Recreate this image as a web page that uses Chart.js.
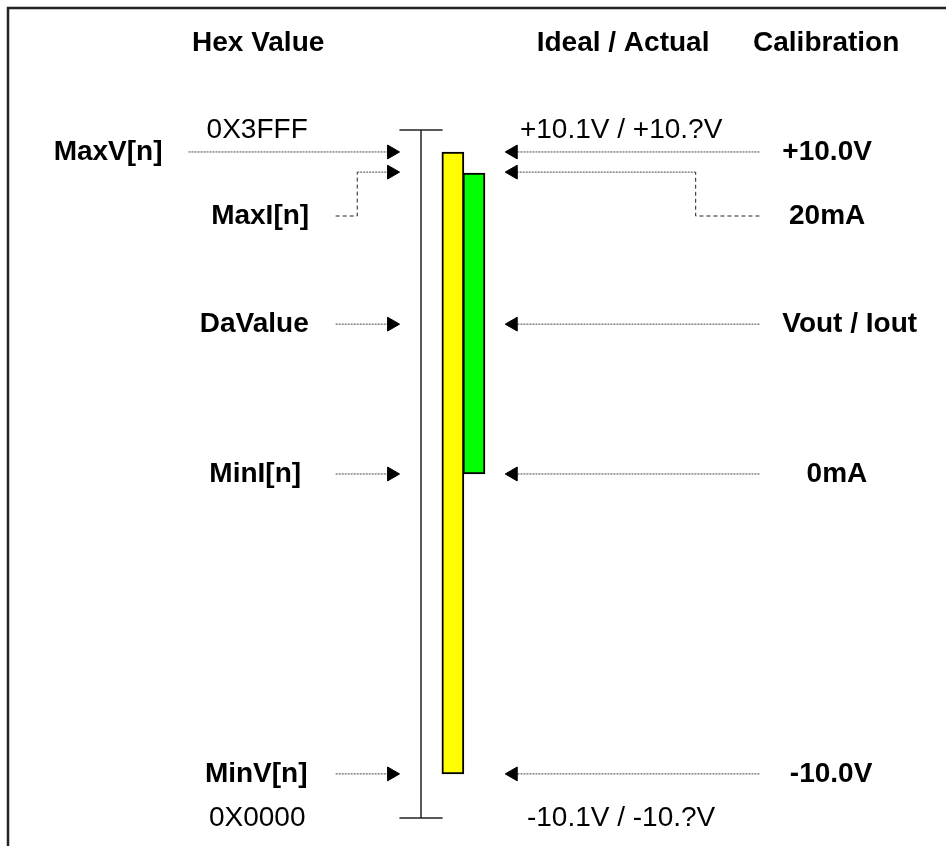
<!DOCTYPE html>
<html><head><meta charset="utf-8">
<script src="https://cdn.jsdelivr.net/npm/chart.js@4.4.1/dist/chart.umd.min.js"></script>
<style>html,body{margin:0;padding:0;background:#fff;}canvas{display:block;}</style>
</head><body>
<canvas id="c" width="946" height="846"></canvas>
<script>
// ---------------- data ----------------
const columnHeaders = ['Hex Value', 'Ideal / Actual', 'Calibration'];
const hexTickLabels = ['0X0000', '0X3FFF'];
const hexTickCodes = [0x0000, 0x3FFF];
const idealActualLabels = ['-10.1V / -10.?V', '+10.1V / +10.?V'];
const levelNames = ['MaxV[n]', 'MaxI[n]', 'DaValue', 'MinI[n]', 'MinV[n]'];
const calibrationLabels = ['+10.0V', '20mA', 'Vout / Iout', '0mA', '-10.0V'];
const levelCodes = [15860, 15380, 11760, 8192, 1050];   // DAC code of each level (schematic)
const voltageRange = [1050, 15860];                      // yellow bar: MinV[n] .. MaxV[n]
const currentRange = [8192, 15360];                      // green bar: MinI[n] .. MaxI[n]

// ---------------- layout (positions / styles only) ----------------
const L = {
  axisX: 420, tickHalf: 22,
  yellowX: 452.5, greenX: 474, barW: 22,
  leftFrom: 333, leftTip: 398, maxVFrom: 183, leftJog: 355,
  rightFrom: 765, rightTip: 506, rightJog: 700,
  arrowR: 8,
  jogRowCode: 14335,
  leftLabelX: [101, 256, 250, 251, 252],
  rightLabelX: [834, 834, 857, 844, 838],
  headerX: [254, 626, 833], headerY: 43,
  hexLabelX: 253, idealLabelX: 624
};
const dotted = [2, 1], dashed = [4, 3];
const lineCol = '#444';

function arrowDataset(pts, rot, dash) {
  const last = pts.length - 1;
  return {
    type: 'line', data: pts, borderColor: lineCol, borderWidth: 1, borderDash: dash,
    pointStyle: 'triangle', rotation: rot,
    pointRadius: pts.map((p, i) => i === last ? L.arrowR : 0),
    pointHoverRadius: 0,
    pointBackgroundColor: '#000', pointBorderColor: '#000', pointBorderWidth: 1,
    tension: 0, fill: false, clip: false, order: 2
  };
}
function plainLine(pts, dash, color, width) {
  return { type: 'line', data: pts, borderColor: color, borderWidth: width, borderDash: dash || [],
    pointRadius: 0, pointHoverRadius: 0, tension: 0, fill: false, clip: false, order: 3 };
}

const datasets = [];
// vertical code axis with end ticks
datasets.push(plainLine([{x: L.axisX, y: hexTickCodes[0]}, {x: L.axisX, y: hexTickCodes[1]}], null, '#222', 1.5));
hexTickCodes.forEach(c => datasets.push(plainLine([{x: L.axisX - L.tickHalf, y: c}, {x: L.axisX + L.tickHalf, y: c}], null, '#222', 1.5)));

// bars
datasets.push({ type: 'bar', data: [{x: L.yellowX, y: voltageRange}], backgroundColor: '#FFFF00', borderColor: '#000',
  borderWidth: 2, borderSkipped: false, barThickness: L.barW, grouped: false, order: 1 });
datasets.push({ type: 'bar', data: [{x: L.greenX, y: currentRange}], backgroundColor: '#00FF00', borderColor: '#000',
  borderWidth: 2, borderSkipped: false, barThickness: L.barW, grouped: false, order: 1 });

// arrows
levelCodes.forEach((code, i) => {
  const lTip = L.leftTip - L.arrowR, rTip = L.rightTip + L.arrowR;
  if (i === 1) {
    datasets.push(plainLine([{x: L.leftFrom, y: L.jogRowCode}, {x: L.leftJog, y: L.jogRowCode}, {x: L.leftJog, y: code}], dashed, '#222', 1));
    datasets.push(arrowDataset([{x: L.leftJog, y: code}, {x: lTip, y: code}], 90, dotted));
    datasets.push(plainLine([{x: L.rightFrom, y: L.jogRowCode}, {x: L.rightJog, y: L.jogRowCode}, {x: L.rightJog, y: code}], dashed, '#222', 1));
    datasets.push(arrowDataset([{x: L.rightJog, y: code}, {x: rTip, y: code}], -90, dotted));
  } else {
    const from = i === 0 ? L.maxVFrom : L.leftFrom;
    datasets.push(arrowDataset([{x: from, y: code}, {x: lTip, y: code}], 90, dotted));
    datasets.push(arrowDataset([{x: L.rightFrom, y: code}, {x: rTip, y: code}], -90, dotted));
  }
});

const textPlugin = {
  id: 'diagramText',
  beforeDraw(chart) {
    const ctx = chart.ctx;
    ctx.save();
    ctx.strokeStyle = '#222'; ctx.lineWidth = 2.5;
    ctx.beginPath(); ctx.moveTo(8, 846); ctx.lineTo(8, 8); ctx.lineTo(946, 8); ctx.stroke();
    ctx.restore();
  },
  afterDraw(chart) {
    const ctx = chart.ctx, ys = chart.scales.y, xs = chart.scales.x;
    const bold = "bold 28px 'Liberation Sans', Arial, sans-serif";
    const normal = "28px 'Liberation Sans', Arial, sans-serif";
    ctx.save();
    ctx.fillStyle = '#000'; ctx.textAlign = 'center'; ctx.textBaseline = 'middle';
    ctx.font = bold;
    columnHeaders.forEach((t, i) => ctx.fillText(t, xs.getPixelForValue(L.headerX[i]), L.headerY));
    levelNames.forEach((t, i) => {
      const c = i === 1 ? L.jogRowCode : levelCodes[i];
      ctx.fillText(t, xs.getPixelForValue(L.leftLabelX[i]), ys.getPixelForValue(c));
    });
    calibrationLabels.forEach((t, i) => {
      const c = i === 1 ? L.jogRowCode : levelCodes[i];
      ctx.fillText(t, xs.getPixelForValue(L.rightLabelX[i]), ys.getPixelForValue(c));
    });
    ctx.font = normal;
    hexTickLabels.forEach((t, i) => ctx.fillText(t, xs.getPixelForValue(L.hexLabelX), ys.getPixelForValue(hexTickCodes[i])));
    idealActualLabels.forEach((t, i) => ctx.fillText(t, xs.getPixelForValue(L.idealLabelX), ys.getPixelForValue(hexTickCodes[i])));
    ctx.restore();
  }
};

new Chart(document.getElementById('c'), {
  type: 'bar',
  data: { datasets },
  options: {
    responsive: false, animation: false, devicePixelRatio: 1,
    layout: { padding: { top: 130, bottom: 28, left: 0, right: 0 } },
    plugins: { legend: { display: false }, tooltip: { enabled: false } },
    events: [],
    scales: {
      x: { type: 'linear', min: 0, max: 946, display: false, offset: false },
      y: { type: 'linear', min: hexTickCodes[0], max: hexTickCodes[1], display: false }
    }
  },
  plugins: [textPlugin]
});
</script>
</body></html>
